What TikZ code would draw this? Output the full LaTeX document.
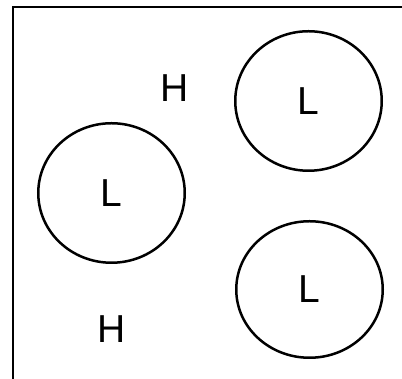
\documentclass[tikz,border=0pt]{standalone}
\usepackage{fontspec}
\setmainfont{Liberation Sans}
\usetikzlibrary{shapes.geometric}
\tikzset{
  x=1pt, y=1pt,
  low/.style={ellipse, draw, line width=2.5pt, inner sep=0pt,
    minimum width=146.5pt, minimum height=139.5pt,
    font=\fontsize{39}{39}\selectfont},
  high/.style={inner sep=0pt, font=\fontsize{39}{39}\selectfont},
  frame/.style={line width=2.5pt}
}
\begin{document}
\begin{tikzpicture}
\useasboundingbox (0,0) rectangle (402,379);
% open frame along the top and left edges
\coordinate (fb) at (13,0);
\coordinate (fc) at (13,372);
\coordinate (fr) at (402,372);
\draw[frame] (fb) -- (fc) -- (fr);
% low-pressure cells
\node[low] (l1) at (308.5,278) {L};
\node[low] (l2) at (111.5,186) {L};
\node[low, minimum height=136.5pt] (l3) at (309.5,89.5) {L};
% high-pressure labels
\node[high] (h1) at (175,291) {H};
\node[high] (h2) at (112,50) {H};
\end{tikzpicture}
\end{document}
